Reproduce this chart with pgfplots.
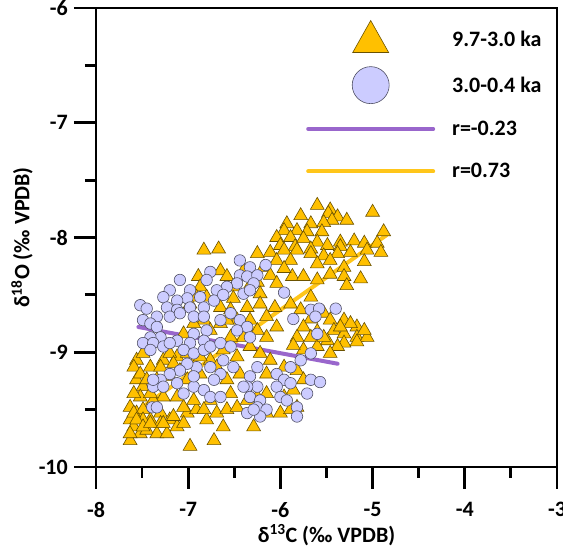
\documentclass[border=0pt]{standalone}
\usepackage{fontspec}
\setmainfont{Carlito}
\usepackage{pgfplots}
\pgfplotsset{compat=1.18}
\definecolor{tri}{HTML}{FFC000}
\definecolor{triedge}{HTML}{6B5200}
\definecolor{cir}{HTML}{CCCCFF}
\definecolor{ciredge}{HTML}{505064}
\definecolor{pur}{HTML}{9966CC}
\definecolor{yel}{HTML}{FFC61A}
\begin{document}
\begin{tikzpicture}
\begin{axis}[name=ax, scale only axis, width=461pt, height=459pt,
 xmin=-8, xmax=-3, ymin=-10, ymax=-6,
 xtick={-8,-7,-6,-5,-4,-3}, ytick={-10,-9,-8,-7,-6},
 minor x tick num=1, minor y tick num=1,
 tick align=outside, xtick pos=bottom, ytick pos=left,
 major tick length=22pt, minor tick length=11pt,
 every tick/.style={black, line width=2.8pt},
 axis line style={line width=2.8pt},
 clip=false,
 /pgf/number format/assume math mode=true,
 ticklabel style={font=\fontsize{22}{25}\selectfont\bfseries, inner sep=0pt},
 yticklabel style={xshift=-6pt},
 xticklabel style={yshift=-13pt},
 xlabel={δ\textsuperscript{13}C (‰ VPDB)},
 ylabel={δ\textsuperscript{18}O (‰ VPDB)},
 label style={font=\fontsize{22}{25}\selectfont\bfseries},
 xlabel style={at={([yshift=-68pt]axis description cs:0.5,0)}, anchor=center},
 ylabel style={at={([xshift=-74pt]axis description cs:0,0.5)}, anchor=center},
 legend cell align=left,
 legend style={at={(axis cs:-5.744,-6.105)}, anchor=north west, draw=none, fill=none,
   inner sep=0pt, column sep=15pt, row sep=13.5pt,
   font=\fontsize{22}{25}\selectfont\bfseries,
   nodes={inner sep=0pt}},
]
\addplot[only marks, mark=triangle*, mark size=8pt,
  mark options={fill=tri, draw=triedge, line width=0.6pt},
  legend image code/.code={
    \path (0pt,-13pt) (129pt,19pt);
    \draw[fill=tri, draw=triedge, line width=0.6pt] (46.5pt,-13pt) -- (82.5pt,-13pt) -- (64.5pt,19pt) -- cycle;}]
table {
-5.60 -7.72
-5.46 -7.76
-5.00 -7.78
-5.78 -7.81
-5.48 -7.79
-5.38 -7.82
-5.28 -7.85
-5.44 -7.85
-5.93 -7.88
-5.67 -7.88
-5.53 -7.87
-5.96 -7.94
-5.82 -7.94
-5.71 -7.95
-5.55 -7.95
-4.88 -7.95
-6.04 -8.00
-5.89 -8.00
-5.75 -8.01
-5.60 -8.04
-5.35 -8.04
-5.20 -8.03
-6.00 -8.07
-5.84 -8.08
-5.67 -8.10
-5.49 -8.07
-5.35 -8.08
-5.09 -8.05
-4.95 -8.05
-6.83 -8.11
-6.67 -8.10
-6.25 -8.14
-6.11 -8.13
-5.96 -8.11
-5.82 -8.11
-5.67 -8.14
-5.53 -8.16
-5.38 -8.14
-5.24 -8.13
-5.06 -8.11
-4.91 -8.13
-6.04 -8.20
-5.89 -8.20
-5.60 -8.23
-5.46 -8.20
-5.31 -8.26
-5.09 -8.21
-6.18 -8.26
-6.40 -8.29
-6.65 -8.29
-6.89 -8.34
-6.58 -8.34
-6.11 -8.33
-5.87 -8.34
-5.75 -8.34
-5.60 -8.37
-5.46 -8.32
-5.31 -8.34
-5.13 -8.36
-5.28 -8.42
-6.25 -8.39
-6.04 -8.40
-6.87 -8.43
-6.51 -8.43
-6.36 -8.46
-6.22 -8.49
-5.67 -8.52
-6.51 -8.53
-6.65 -8.61
-6.54 -8.63
-6.36 -8.61
-6.22 -8.58
-6.06 -8.61
-5.78 -8.63
-5.89 -8.58
-5.96 -8.27
-5.53 -8.66
-5.67 -8.71
-5.46 -8.72
-5.31 -8.72
-5.17 -8.78
-5.75 -8.78
-5.60 -8.82
-5.42 -8.81
-5.31 -8.84
-5.17 -8.87
-5.06 -8.87
-5.82 -8.87
-5.67 -8.87
-5.49 -8.90
-5.31 -8.92
-5.17 -8.91
-5.38 -8.95
-5.60 -8.95
-5.46 -9.01
-5.75 -8.98
-5.86 -8.94
-5.24 -8.75
-5.09 -8.81
-5.35 -8.78
-5.53 -8.87
-5.96 -9.13
-5.82 -9.16
-5.75 -9.24
-5.86 -9.33
-5.96 -9.39
-5.82 -9.48
-6.00 -9.53
-6.15 -9.53
-6.29 -9.65
-5.89 -9.50
-7.56 -9.07
-7.49 -9.01
-7.41 -9.13
-7.27 -9.07
-7.12 -9.04
-7.56 -9.24
-7.49 -9.30
-7.34 -9.24
-7.20 -9.21
-7.09 -9.16
-6.94 -9.10
-6.76 -9.07
-6.62 -8.98
-6.47 -9.04
-6.33 -8.95
-6.22 -9.01
-6.15 -8.87
-6.04 -8.78
-6.25 -8.81
-6.40 -8.87
-6.54 -8.87
-6.65 -8.75
-6.83 -8.72
-6.94 -8.75
-7.05 -8.84
-7.63 -9.48
-7.56 -9.53
-7.49 -9.50
-7.41 -9.59
-7.30 -9.53
-7.20 -9.59
-7.12 -9.65
-7.01 -9.53
-6.91 -9.50
-6.80 -9.59
-6.69 -9.53
-6.58 -9.50
-6.47 -9.48
-6.36 -9.42
-6.25 -9.39
-6.15 -9.36
-7.63 -9.77
-7.52 -9.71
-7.59 -9.65
-7.45 -9.68
-7.34 -9.71
-6.98 -9.82
-6.72 -9.77
-6.62 -9.65
-7.23 -9.71
-7.12 -9.39
-6.94 -9.42
-6.76 -9.42
-7.27 -9.39
-7.38 -9.42
-7.52 -9.39
-7.59 -9.36
-6.91 -8.52
-6.98 -8.58
-6.80 -8.52
-6.47 -8.72
-6.33 -8.72
-6.15 -8.69
-6.58 -8.72
-6.76 -8.81
-7.20 -9.01
-7.01 -9.24
-6.87 -9.19
-6.58 -9.24
-6.44 -9.19
-6.15 -9.19
-6.11 -9.07
-6.54 -9.36
-7.41 -9.36
-7.05 -9.48
-6.83 -9.50
-7.63 -9.59
-7.49 -9.59
-7.30 -9.62
-7.59 -9.13
-7.52 -9.19
-7.45 -9.24
-7.30 -9.13
-7.16 -9.10
-7.01 -9.01
-6.87 -9.04
-6.69 -9.13
-7.59 -9.53
-7.56 -9.59
-7.63 -9.71
-7.49 -9.65
-7.41 -9.62
-7.27 -9.62
-7.16 -9.56
-7.05 -9.62
};
\addlegendentry{9.7-3.0 ka}
\addplot[only marks, mark=*, mark size=5.75pt,
  mark options={fill=cir, draw=ciredge, line width=0.6pt},
  legend image code/.code={
    \path (0pt,-18.5pt) (129pt,18.5pt);
    \draw[fill=cir, draw=ciredge, line width=0.6pt] (64.5pt,0pt) circle (18.5pt);}]
table {
-6.44 -8.20
-6.33 -8.26
-6.16 -8.24
-6.76 -8.30
-6.44 -8.33
-6.36 -8.34
-6.25 -8.33
-6.29 -8.40
-6.47 -8.40
-6.58 -8.43
-6.69 -8.46
-6.80 -8.37
-7.09 -8.37
-7.20 -8.46
-7.27 -8.52
-6.98 -8.46
-6.87 -8.52
-7.01 -8.53
-7.12 -8.55
-7.23 -8.61
-7.52 -8.59
-7.45 -8.62
-7.12 -8.63
-6.98 -8.61
-6.83 -8.61
-6.72 -8.55
-6.62 -8.50
-6.40 -8.49
-6.33 -8.46
-5.96 -8.48
-7.20 -8.69
-7.09 -8.66
-6.94 -8.69
-6.83 -8.69
-7.34 -8.69
-7.49 -8.72
-7.41 -8.75
-7.34 -8.78
-6.65 -8.72
-6.54 -8.66
-6.44 -8.72
-6.36 -8.78
-6.47 -8.81
-6.33 -8.87
-6.80 -8.81
-6.94 -8.84
-6.83 -8.90
-6.98 -8.92
-7.12 -8.90
-7.30 -8.87
-7.41 -8.87
-7.49 -8.92
-7.38 -8.92
-7.41 -8.98
-7.27 -8.95
-7.20 -8.92
-7.05 -8.98
-6.94 -9.01
-6.83 -8.98
-6.76 -8.95
-6.65 -8.92
-6.54 -8.95
-6.62 -9.07
-6.51 -9.13
-6.65 -9.19
-6.76 -9.13
-6.91 -9.13
-7.01 -9.10
-7.09 -9.16
-7.20 -9.19
-7.30 -9.24
-7.38 -9.30
-7.27 -9.30
-7.12 -9.27
-7.05 -9.36
-6.94 -9.30
-6.83 -9.33
-6.72 -9.24
-6.76 -9.39
-6.65 -9.39
-6.94 -9.21
-5.86 -8.71
-5.67 -8.63
-5.58 -8.62
-5.40 -8.62
-5.62 -8.69
-5.60 -8.84
-5.67 -9.01
-5.78 -9.07
-5.89 -9.13
-6.04 -9.19
-5.96 -9.24
-5.89 -9.27
-6.04 -9.30
-6.00 -9.39
-5.93 -9.42
-5.82 -9.48
-5.71 -9.36
-5.67 -9.24
-5.57 -9.26
-6.25 -9.13
-6.33 -9.21
-6.25 -9.30
-6.36 -9.30
-6.33 -9.39
-6.22 -9.42
-6.25 -9.48
-6.36 -9.53
-6.15 -9.50
-6.22 -9.56
-6.29 -9.50
-6.40 -9.30
-5.82 -9.56
-7.39 -9.48
-7.38 -9.24
-7.34 -9.48
};
\addlegendentry{3.0-0.4 ka}
\addplot[pur, line width=4pt, line cap=round, no marks,
  legend image code/.code={
    \path (0pt,-12.5pt) (129pt,9.5pt);
    \draw[pur, line width=4pt, line cap=round] (2pt,0pt) -- (127pt,0pt);}]
coordinates {(-7.54,-8.78) (-5.38,-9.10)};
\addlegendentry{r=-0.23}
\addplot[yel, line width=4pt, line cap=round, no marks,
  legend image code/.code={
    \path (0pt,-10pt) (129pt,12.5pt);
    \draw[yel, line width=4pt, line cap=round] (2pt,0pt) -- (127pt,0pt);}]
coordinates {(-7.50,-9.48) (-4.85,-7.98)};
\addlegendentry{r=0.73}
\end{axis}
\pgfresetboundingbox
\path[use as bounding box] ([shift={(-96pt,-80pt)}]ax.south west) rectangle ([shift={(6pt,8pt)}]ax.north east);
\end{tikzpicture}
\end{document}
